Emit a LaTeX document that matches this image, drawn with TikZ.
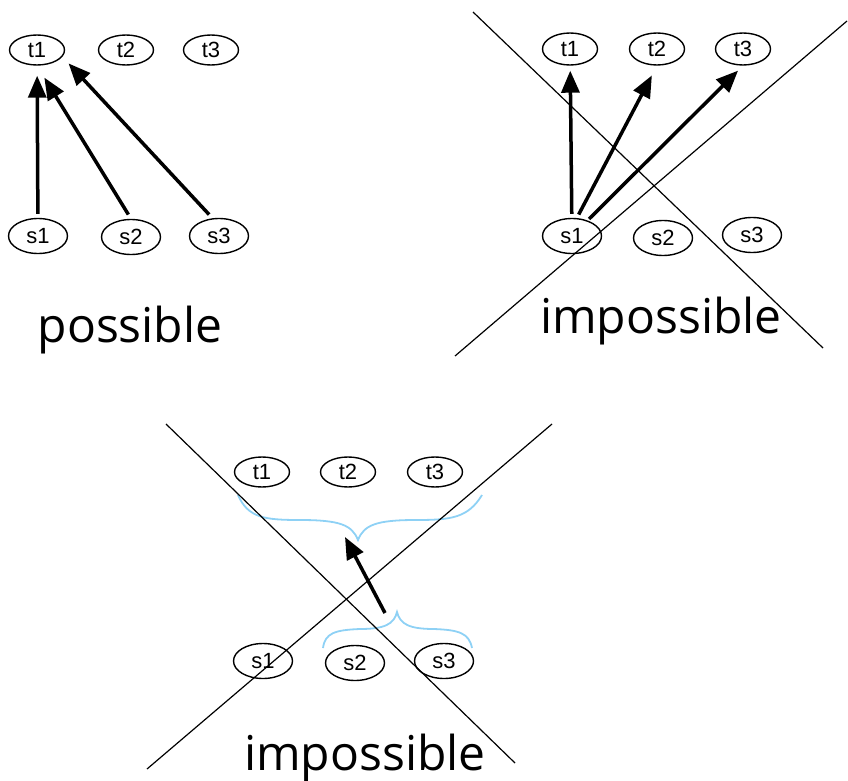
\documentclass[tikz,border=0pt]{standalone}
\usepackage{fontspec}
\usetikzlibrary{shapes.geometric,arrows.meta}
\newfontfamily\lblfont{Liberation Sans}
\newfontfamily\capfont{Open Sans}
\definecolor{braceblue}{RGB}{142,209,245}
\tikzset{
  tnode/.style={ellipse, draw, line width=1.4pt, minimum width=55pt, minimum height=30pt, inner sep=0pt, font=\lblfont\fontsize{22}{24}\selectfont},
  snode/.style={tnode, minimum width=59pt, minimum height=35pt},
  arr/.style={line width=3.5pt, -{Triangle[length=22pt,width=18pt]}},
  cross/.style={line width=1.2pt},
  brace/.style={draw=braceblue, line width=1.8pt},
  caption/.style={font=\capfont\fontsize{48}{52}\selectfont, anchor=base, inner sep=0pt},
}
\begin{document}
\begin{tikzpicture}[x=1pt,y=-1pt]
\useasboundingbox (0,0) rectangle (848,781);

% possible
\node[tnode] (a-t1) at (37,50) {t1};
\node[tnode] (a-t2) at (126,50) {t2};
\node[tnode] (a-t3) at (211,50) {t3};
\node[snode] (a-s1) at (38,236) {s1};
\node[snode] (a-s2) at (131,237) {s2};
\node[snode] (a-s3) at (219,236) {s3};
\draw [arr, shorten <=4pt, shorten >=10pt] (a-s1) -- (a-t1);
\draw [arr, shorten <=5pt, shorten >=14pt] (a-s2.north) -- (a-t1.south);
\draw [arr, shorten <=5pt, shorten >=9pt] (a-s3.110) -- (a-t1.-15);
\node[caption] (a-lab) at (130,342) {possible};

% impossible, one source
\node[tnode, minimum height=32pt] (b-t1) at (570,49) {t1};
\node[tnode, minimum height=32pt] (b-t2) at (657,49) {t2};
\node[tnode, minimum height=32pt] (b-t3) at (743,49) {t3};
\node[snode] (b-s1) at (572,236) {s1};
\node[snode] (b-s2) at (663,238) {s2};
\node[snode] (b-s3) at (752,235) {s3};
\draw [arr, shorten <=4pt, shorten >=5pt] (b-s1) -- (b-t1);
\draw [arr, shorten <=4pt, shorten >=11pt] (b-s1.75) -- (b-t2.south);
\draw [arr, shorten <=2pt, shorten >=7pt] (b-s1.45) -- (b-t3.south);
\draw [cross] (473,12) -- (823,348);
\draw [cross] (455,356) -- (847,21);
\node[caption] (b-lab) at (661,333) {impossible};

% impossible, groups
\node[tnode] (c-t1) at (262,472) {t1};
\node[tnode] (c-t2) at (348,472) {t2};
\node[tnode] (c-t3) at (435,472) {t3};
\node[snode] (c-s1) at (263,661) {s1};
\node[snode] (c-s2) at (355,663) {s2};
\node[snode] (c-s3) at (444,661) {s3};
\draw [brace] (238,495) .. controls (248,518) and (265,520) .. (300,520)
  .. controls (340,520) and (352,525) .. (358,540)
  .. controls (364,525) and (376,520) .. (416,520)
  .. controls (451,520) and (468,518) .. (482,495);
\draw [brace] (323,648) .. controls (325,633) and (335,630) .. (360,629)
  .. controls (385,629) and (394,624) .. (397,612)
  .. controls (400,624) and (409,629) .. (434,629)
  .. controls (459,630) and (469,633) .. (472,648);
\coordinate (c-lo) at (385,613);
\coordinate (c-hi) at (345,537);
\draw [arr] (c-lo) -- (c-hi);
\draw [cross] (166,424) -- (515,763);
\draw [cross] (552,424) -- (147,769);
\node[caption] (c-lab) at (365,770) {impossible};
\end{tikzpicture}
\end{document}
